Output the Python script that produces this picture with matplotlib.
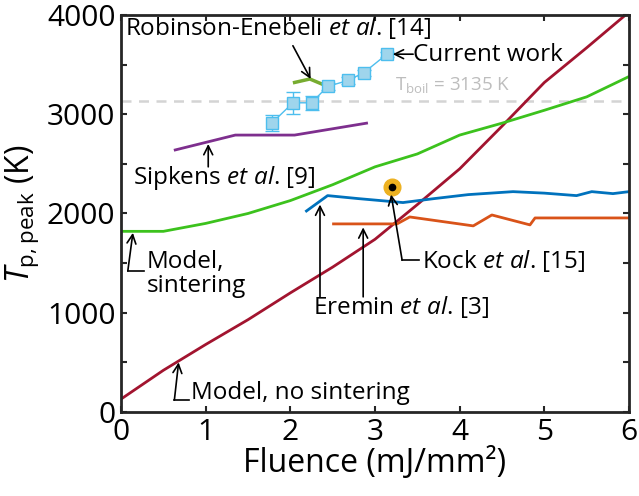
import numpy as np
import matplotlib
matplotlib.use('Agg')
import matplotlib.pyplot as plt

plt.rcParams['font.family'] = ['Open Sans', 'DejaVu Sans']
plt.rcParams['mathtext.fontset'] = 'custom'
plt.rcParams['mathtext.rm'] = 'Open Sans'
plt.rcParams['mathtext.it'] = 'Open Sans:italic'

# model, no sintering
fl_nosint = [0, 0.5, 1, 1.5, 2, 2.5, 3, 3.5, 4, 4.5, 5, 5.5, 6]
T_nosint = [130, 420, 680, 930, 1200, 1460, 1740, 2090, 2450, 2880, 3320, 3670, 4030]

# model, sintering
fl_sint = [0, 0.5, 1, 1.5, 2, 2.5, 3, 3.5, 4, 4.5, 5, 5.5, 6]
T_sint = [1820, 1820, 1900, 2000, 2130, 2290, 2470, 2600, 2790, 2910, 3040, 3175, 3380]

# Sipkens et al. [9]
fl_sipkens = [0.64, 1.35, 2.05, 2.9]
T_sipkens = [2640, 2790, 2790, 2910]

# Eremin et al. [3]
fl_eremin1 = [2.19, 2.44, 2.8, 3.33, 3.7, 4.1, 4.63, 5.0, 5.38, 5.56, 5.81, 6.0]
T_eremin1 = [2025, 2180, 2150, 2110, 2150, 2190, 2220, 2205, 2180, 2220, 2200, 2220]
fl_eremin2 = [2.51, 3.26, 3.41, 4.16, 4.38, 4.83, 4.89, 6.0]
T_eremin2 = [1895, 1895, 1965, 1875, 1985, 1885, 1955, 1955]

# Robinson-Enebeli et al. [14]
fl_robinson = [2.05, 2.23, 2.37]
T_robinson = [3320, 3355, 3305]

# Kock et al. [15]
fl_kock = [3.2]
T_kock = [2270]

# current work
fl_cur = [1.78, 2.03, 2.25, 2.44, 2.68, 2.87, 3.14]
T_cur = [2910, 3115, 3115, 3280, 3340, 3420, 3605]
T_cur_err = [80, 110, 70, 35, 40, 30, 25]

T_boil = 3135

fig = plt.figure(figsize=(6.39, 4.96), dpi=100)
ax = fig.add_axes([0.1894, 0.1694, 0.795, 0.8004])

ax.axhline(T_boil, color='#d4d4d4', lw=1.8, ls=(0, (4, 3)), zorder=1)
ax.text(3.24, 3290, r'T$_{\rm boil}$ = 3135 K', color='#bdbdbd', fontsize=13.5,
        va='center', ha='left')

ax.plot(fl_nosint, T_nosint, color='#A2142F', lw=2)
ax.plot(fl_sint, T_sint, color='#3cc21d', lw=2)
ax.plot(fl_sipkens, T_sipkens, color='#7E2F8E', lw=2)
ax.plot(fl_eremin1, T_eremin1, color='#0072BD', lw=2)
ax.plot(fl_eremin2, T_eremin2, color='#D95319', lw=2)
ax.plot(fl_robinson, T_robinson, color='#77AC30', lw=2.5)
ax.plot(fl_kock, T_kock, 'o', ms=12, mfc='#EDB120', mec='#EDB120')
ax.plot(fl_kock, T_kock, 'o', ms=4.5, color='k')
ax.errorbar(fl_cur, T_cur, yerr=T_cur_err, color='#4DBEEE', lw=1, marker='s',
            ms=8, mfc='#9fd5ec', mec='#4DBEEE', capsize=5, elinewidth=1)

arr = dict(arrowstyle='->', color='k', lw=1.2, shrinkA=0, shrinkB=0,
           mutation_scale=16)
fs = 17.5
etal = r'$\it{et\ al}$.'

# Robinson-Enebeli
ax.text(0.05, 3870, 'Robinson-Enebeli ' + etal + ' [14]', fontsize=fs, va='center')
ax.annotate('', xy=(2.24, 3355), xytext=(2.03, 3690), arrowprops=arr)

# current work
ax.annotate('', xy=(3.21, 3605), xytext=(3.45, 3605), arrowprops=arr)
ax.text(3.45, 3600, 'Current work', fontsize=fs, va='center')

# Sipkens
ax.annotate('', xy=(1.03, 2700), xytext=(1.03, 2470), arrowprops=arr)
ax.text(0.14, 2360, 'Sipkens ' + etal + ' [9]', fontsize=fs, va='center')

# model, sintering
ax.plot([0.27, 0.08], [1420, 1420], color='k', lw=1.2)
ax.annotate('', xy=(0.14, 1805), xytext=(0.08, 1420), arrowprops=arr)
ax.text(0.3, 1390, 'Model,\nsintering', fontsize=fs, va='center',
        linespacing=0.95)

# model, no sintering
ax.plot([0.8, 0.63], [120, 120], color='k', lw=1.2)
ax.annotate('', xy=(0.68, 500), xytext=(0.63, 120), arrowprops=arr)
ax.text(0.83, 190, 'Model, no sintering', fontsize=fs, va='center')

# Eremin
ax.annotate('', xy=(2.35, 2090), xytext=(2.35, 1160), arrowprops=arr)
ax.annotate('', xy=(2.86, 1860), xytext=(2.86, 1160), arrowprops=arr)
ax.text(2.27, 1060, 'Eremin ' + etal + ' [3]', fontsize=fs, va='center')

# Kock
ax.plot([3.52, 3.32], [1530, 1530], color='k', lw=1.2)
ax.annotate('', xy=(3.19, 2190), xytext=(3.32, 1530), arrowprops=arr)
ax.text(3.55, 1520, 'Kock ' + etal + ' [15]', fontsize=fs, va='center')

ax.set_xlim(0, 6)
ax.set_ylim(0, 4000)
ax.set_xticks(range(0, 7))
ax.set_yticks(range(0, 4001, 1000))
ax.set_yticks(range(500, 4000, 1000), minor=True)
ax.tick_params(which='both', direction='in', top=True, right=True,
               length=4, width=1.5, labelsize=21.5, color='#262626', pad=4)
for s in ax.spines.values():
    s.set_linewidth(2)
    s.set_color('#262626')

ax.set_xlabel('Fluence (mJ/mm²)', fontsize=23, labelpad=0)
ax.set_ylabel(r'$\it{T}_{\rm p,peak}$ (K)', fontsize=23, labelpad=4)

fig.savefig('out.png', dpi=100)
